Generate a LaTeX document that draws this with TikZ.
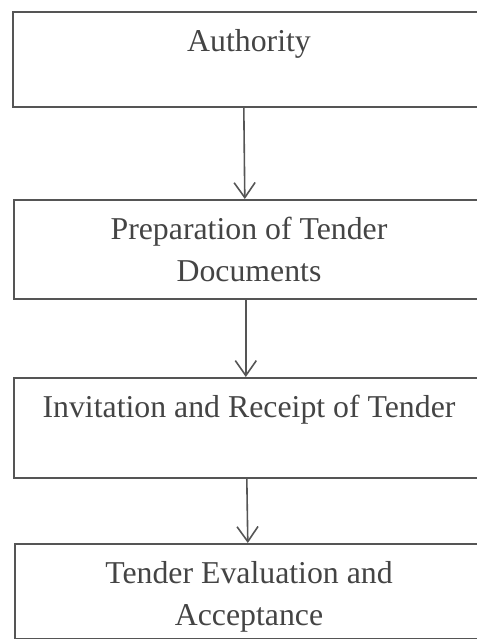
\documentclass[tikz,border=0pt]{standalone}
\usepackage{fontspec}
\setmainfont{Liberation Serif}
\usetikzlibrary{arrows.meta,calc}
\definecolor{linegray}{HTML}{555555}
\definecolor{textgray}{HTML}{444444}
\tikzset{
  stagebox/.style={draw=linegray, line width=1.6pt, rectangle, minimum width=474pt, inner sep=0pt, anchor=north west},
  stagetext/.style={text=textgray, font=\fontsize{31.8}{42}\selectfont, align=center, anchor=base, inner sep=0pt},
  flowarrow/.style={draw=linegray, line width=1.6pt, -{Straight Barb[length=15pt,width=21pt,line width=1.6pt]}}
}
\begin{document}
\begin{tikzpicture}[x=1pt,y=1pt]
\useasboundingbox (0,0) rectangle (476,-639);
\node[stagebox, minimum height=95pt] (b1) at (12,-11) {};
\node[stagebox, minimum height=99pt] (b2) at (13,-199) {};
\node[stagebox, minimum height=100pt] (b3) at (13,-377) {};
\node[stagebox, minimum height=95pt] (b4) at (14,-543) {};
\node[stagetext] (t1) at (249,-52) {Authority};
\node[stagetext] (t2) at (249,-281) {Preparation of Tender\\Documents};
\node[stagetext] (t3) at (249,-417) {Invitation and Receipt of Tender};
\node[stagetext] (t4) at (249,-625) {Tender Evaluation and\\Acceptance};
\draw[flowarrow] ([xshift=-6pt]b1.south) -- ([xshift=-6pt]b2.north);
\draw[flowarrow] ([xshift=-5pt]b2.south) -- ([xshift=-5pt]b3.north);
\draw[flowarrow] ([xshift=-4pt]b3.south) -- ([xshift=-4pt]b4.north);
\end{tikzpicture}
\end{document}
